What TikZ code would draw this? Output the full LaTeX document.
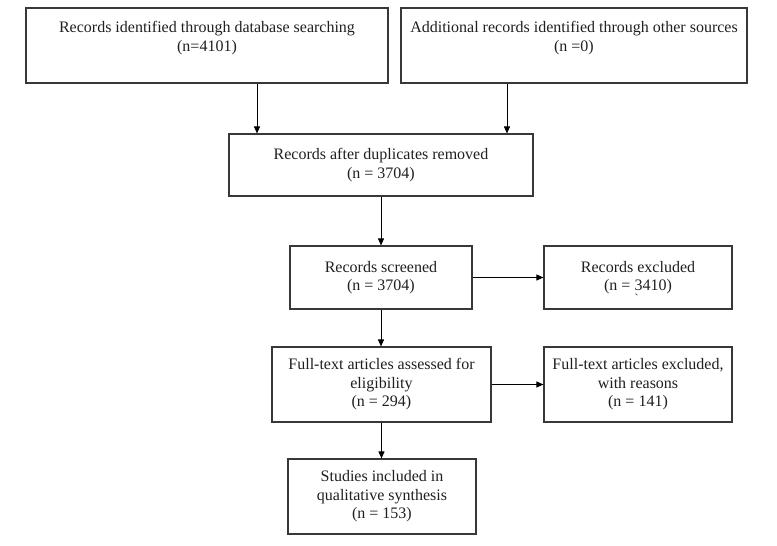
\documentclass[tikz,border=0pt]{standalone}
\usepackage{fontspec}
\setmainfont{Liberation Serif}
\usetikzlibrary{arrows.meta,calc}
\begin{document}
\begin{tikzpicture}[x=1pt,y=-1pt,
  box/.style={draw=black!78, line width=1.1pt, inner sep=0pt, align=center,
    font=\fontsize{16}{18.5}\selectfont, text=black!88},
  txt/.style={inner sep=0pt, align=center, font=\fontsize{16}{19}\selectfont, text=black!88},
  arr/.style={draw=black, line width=0.9pt, -{Triangle[length=7pt,width=6pt]}}]
\useasboundingbox (0,0) rectangle (777,546);
% boxes
\node[box, minimum width=362pt, minimum height=75pt] (b1) at (207,45.5) {};
\node[box, minimum width=346pt, minimum height=75pt] (b2) at (574,45.5) {};
\node[txt, anchor=north] (t1) at ($(b1.north)+(0,14)$) {Records identified through database searching\\(n=4101)};
\node[txt, anchor=north] (t2) at ($(b2.north)+(0,14)$) {Additional records identified through other sources\\(n =0)};
\node[box, minimum width=304pt, minimum height=62pt] (b3) at (381,165) {Records after duplicates removed\\(n = 3704)};
\node[box, minimum width=182pt, minimum height=63pt] (b4) at (381,277.5) {Records screened\\(n = 3704)};
\node[box, minimum width=188pt, minimum height=63pt] (b5) at (638,277.5) {Records excluded\\(n = 3410)};
\node[txt, font=\fontsize{12}{12}\selectfont] (g5) at (636.5,298) {\textasciigrave};
\node[box, minimum width=219pt, minimum height=75pt] (b6) at (381.5,384.5) {Full-text articles assessed for\\eligibility\\(n = 294)};
\node[box, minimum width=188pt, minimum height=75pt] (b7) at (638,384.5) {Full-text articles excluded,\\with reasons\\(n = 141)};
\node[box, minimum width=188pt, minimum height=75pt] (b8) at (382,496.5) {Studies included in\\qualitative synthesis\\(n = 153)};
% connectors
\coordinate (x1) at (257,0);
\coordinate (x2) at (507,0);
\draw[arr] (b1.south -| x1) -- (b3.north -| x1);
\draw[arr] (b2.south -| x2) -- (b3.north -| x2);
\draw[arr] (b3.south) -- (b3.south |- b4.north);
\draw[arr] (b4.east) -- (b5.west);
\draw[arr] (b4.south) -- (b4.south |- b6.north);
\draw[arr] (b6.east) -- (b7.west);
\draw[arr] (b6.south) -- (b6.south |- b8.north);
\end{tikzpicture}
\end{document}
